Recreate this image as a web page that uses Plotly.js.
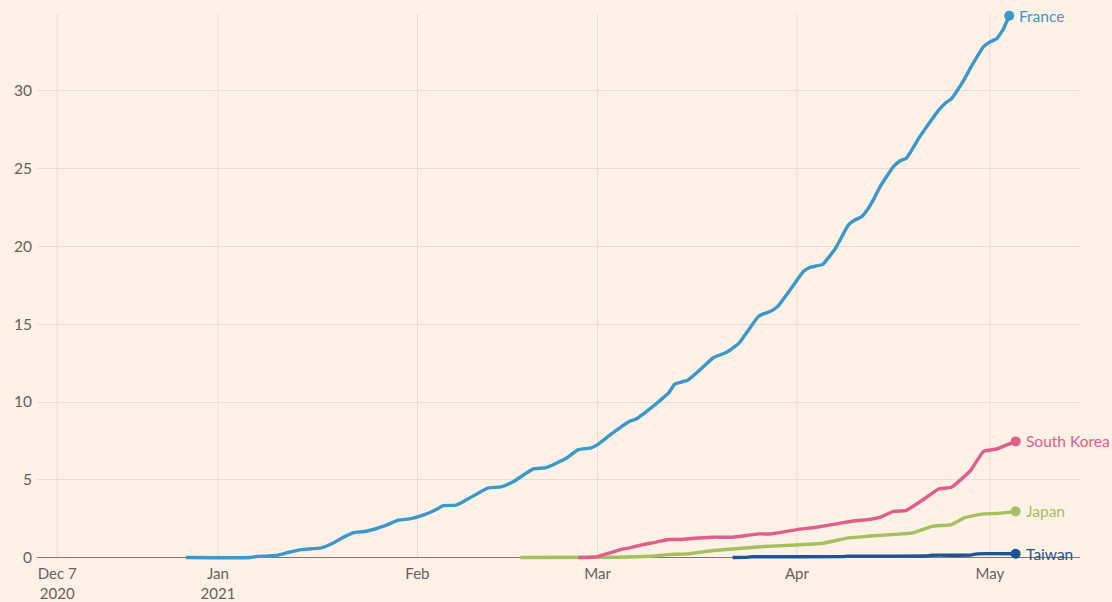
<!DOCTYPE html>
<html>
<head>
<meta charset="utf-8">
<script src="https://cdn.plot.ly/plotly-3.0.1.min.js"></script>
<style>
html,body{margin:0;padding:0;background:#FFF1E5;}
#chart{width:1112px;height:602px;}
</style>
</head>
<body>
<div id="chart"></div>
<script>
// ---- Data (share of population vaccinated, %) ----
const franceDates = ["2020-12-27","2021-01-06","2021-01-07","2021-01-10","2021-01-12","2021-01-14","2021-01-17","2021-01-19","2021-01-20","2021-01-22","2021-01-24","2021-01-27","2021-01-29","2021-01-31","2021-02-02","2021-02-04","2021-02-05","2021-02-07","2021-02-09","2021-02-12","2021-02-14","2021-02-16","2021-02-19","2021-02-21","2021-02-24","2021-02-26","2021-02-28","2021-03-01","2021-03-03","2021-03-06","2021-03-07","2021-03-10","2021-03-11","2021-03-12","2021-03-13","2021-03-14","2021-03-15","2021-03-17","2021-03-19","2021-03-21","2021-03-23","2021-03-26","2021-03-27","2021-03-28","2021-03-29","2021-03-31","2021-04-02","2021-04-03","2021-04-04","2021-04-05","2021-04-07","2021-04-09","2021-04-10","2021-04-11","2021-04-12","2021-04-13","2021-04-14","2021-04-16","2021-04-17","2021-04-18","2021-04-20","2021-04-21","2021-04-23","2021-04-24","2021-04-25","2021-04-27","2021-04-28","2021-04-30","2021-05-01","2021-05-02","2021-05-03","2021-05-04"];
const franceValues = [0,0,0.07,0.13,0.34,0.51,0.62,0.95,1.2,1.59,1.69,2.05,2.4,2.5,2.74,3.1,3.34,3.37,3.8,4.48,4.54,4.9,5.7,5.78,6.35,6.94,7.05,7.26,7.9,8.76,8.91,9.85,10.2,10.55,11.15,11.28,11.4,12.1,12.85,13.19,13.79,15.5,15.7,15.85,16.15,17.25,18.39,18.65,18.75,18.85,19.89,21.39,21.7,21.9,22.4,23.1,23.9,25.14,25.5,25.68,27.0,27.6,28.75,29.2,29.5,30.75,31.5,32.85,33.15,33.35,33.92,34.84];

const koreaDates = ["2021-02-26","2021-02-28","2021-03-01","2021-03-02","2021-03-05","2021-03-06","2021-03-08","2021-03-10","2021-03-12","2021-03-14","2021-03-16","2021-03-19","2021-03-22","2021-03-26","2021-03-28","2021-04-01","2021-04-04","2021-04-08","2021-04-10","2021-04-12","2021-04-14","2021-04-16","2021-04-18","2021-04-21","2021-04-23","2021-04-25","2021-04-28","2021-04-30","2021-05-02","2021-05-05"];
const koreaValues = [0,0.02,0.06,0.19,0.56,0.62,0.83,0.98,1.16,1.16,1.24,1.31,1.31,1.52,1.52,1.8,1.95,2.23,2.37,2.44,2.6,2.97,3.04,3.83,4.41,4.52,5.6,6.83,6.98,7.47];

const japanDates = ["2021-02-17","2021-03-04","2021-03-09","2021-03-12","2021-03-15","2021-03-19","2021-03-23","2021-03-27","2021-03-31","2021-04-05","2021-04-09","2021-04-11","2021-04-13","2021-04-16","2021-04-19","2021-04-22","2021-04-25","2021-04-27","2021-04-30","2021-05-02","2021-05-05"];
const japanValues = [0,0.02,0.08,0.19,0.24,0.45,0.58,0.71,0.79,0.92,1.27,1.33,1.4,1.48,1.59,2.01,2.12,2.55,2.81,2.83,2.97];

const taiwanDates = ["2021-03-22","2021-03-24","2021-03-25","2021-04-08","2021-04-09","2021-04-21","2021-04-22","2021-04-28","2021-04-29","2021-05-05"];
const taiwanValues = [0,0.01,0.05,0.06,0.09,0.1,0.15,0.16,0.24,0.24];

const tickDates = ["2020-12-07","2021-01-01","2021-02-01","2021-03-01","2021-04-01","2021-05-01"];
const tickLabels = ["Dec 7<br>2020","Jan<br>2021","Feb","Mar","Apr","May"];

const seriesNames = ["France","South Korea","Japan","Taiwan"];
const seriesColors = ["#3a98cb","#e35d8c","#a2c05c","#1b5595"];

// ---- Build traces ----
const allDates = [franceDates, koreaDates, japanDates, taiwanDates];
const allValues = [franceValues, koreaValues, japanValues, taiwanValues];
const drawOrder = [3,2,1,0];
const traces = [];
const annotations = [];
drawOrder.forEach(i => {
  const xs = allDates[i], ys = allValues[i];
  traces.push({
    x: xs, y: ys, type: 'scatter', mode: 'lines',
    line: {color: seriesColors[i], width: 3.4, shape: 'spline', smoothing: 0.4},
    hoverinfo: 'skip', showlegend: false
  });
  traces.push({
    x: [xs[xs.length-1]], y: [ys[ys.length-1]], type: 'scatter', mode: 'markers',
    marker: {color: seriesColors[i], size: 10, line: {color: seriesColors[i], width: 0}},
    hoverinfo: 'skip', showlegend: false, cliponaxis: false
  });
  annotations.push({
    x: xs[xs.length-1], y: ys[ys.length-1], xref: 'x', yref: 'y',
    text: seriesNames[i], showarrow: false, xanchor: 'left', yanchor: 'middle',
    xshift: 8, font: {family: 'Lato, sans-serif', size: 15.5, color: seriesColors[i]}
  });
});

const yTop = 34.95;
const shapes = tickDates.map(d => ({
  type: 'line', xref: 'x', yref: 'y', x0: d, x1: d, y0: 0, y1: yTop,
  line: {color: '#e8dcd2', width: 1}, layer: 'below'
}));

const layout = {
  width: 1112, height: 602,
  paper_bgcolor: '#FFF1E5', plot_bgcolor: '#FFF1E5',
  margin: {l: 37, r: 32, t: 14, b: 38.5},
  font: {family: 'Lato, sans-serif', size: 15, color: '#66605c'},
  xaxis: {
    type: 'date', range: ['2020-12-03 20:40', '2021-05-15'],
    tickvals: tickDates, ticktext: tickLabels,
    showgrid: false, zeroline: false, showline: false, ticks: '',
    tickfont: {family: 'Lato, sans-serif', size: 15, color: '#66605c'},
    fixedrange: true
  },
  yaxis: {
    range: [-0.35, yTop], dtick: 5, tick0: 0,
    showgrid: true, gridcolor: '#e8dcd2', gridwidth: 1,
    zeroline: true, zerolinecolor: '#7d7671', zerolinewidth: 1,
    showline: false, ticks: '', ticklabelstandoff: 4,
    tickfont: {family: 'Lato, sans-serif', size: 15.5, color: '#66605c'},
    fixedrange: true
  },
  shapes: shapes,
  annotations: annotations,
  showlegend: false
};

Plotly.newPlot('chart', traces, layout, {displayModeBar: false, staticPlot: true});
</script>
</body>
</html>
